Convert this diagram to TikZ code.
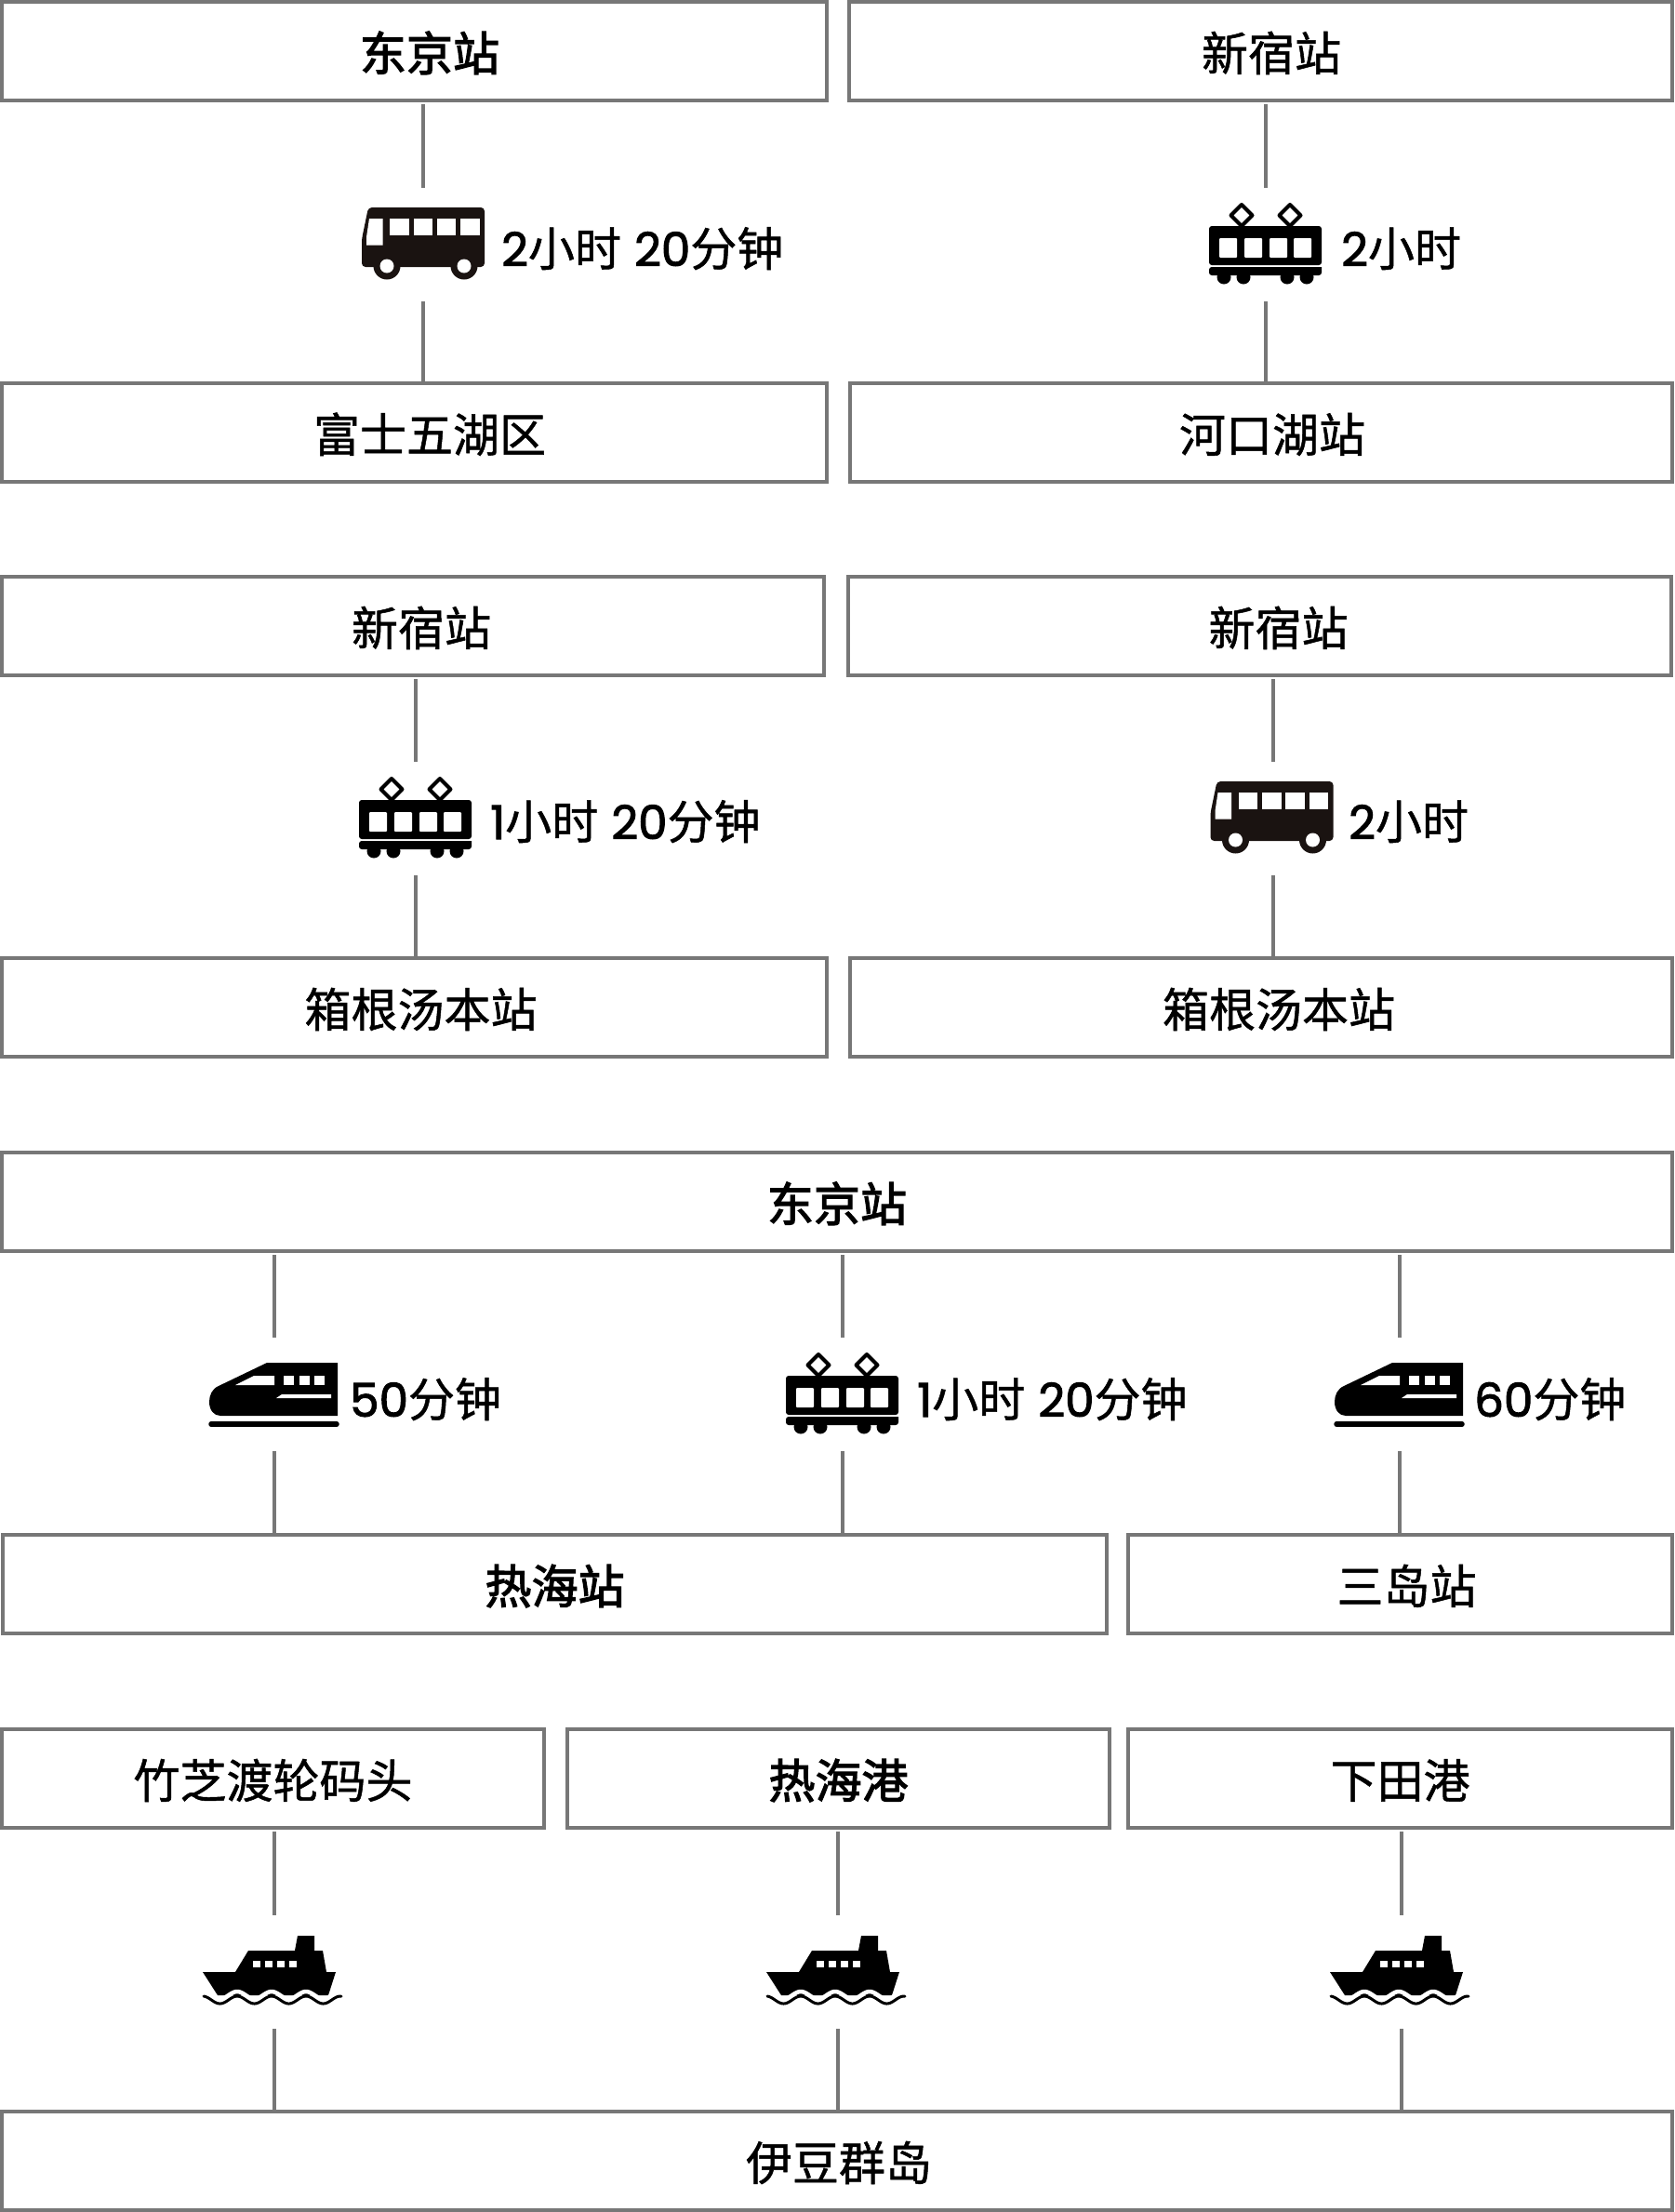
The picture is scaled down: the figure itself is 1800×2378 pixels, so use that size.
\documentclass[tikz,border=0pt]{standalone}
\usepackage{fontspec}
\setmainfont[FakeBold=1]{Noto Sans CJK SC}
\newfontfamily\numfont[FakeBold=2]{Poppins}
\newfontfamily\heavycjk[FakeBold=2.5]{Noto Sans CJK SC}
\definecolor{boxgray}{HTML}{777777}
\definecolor{iconblack}{HTML}{1A1311}

\tikzset{
  stn/.style={rectangle, draw=boxgray, line width=4pt, font=\fontsize{50}{58}\selectfont, inner sep=0pt, text height=45pt, text depth=3pt},
  gap/.style={rectangle, minimum width=4pt, minimum height=120pt, inner sep=0pt},
  link/.style={draw=boxgray, line width=4pt, shorten <=2pt},
  trip/.style={anchor=west, inner sep=0pt, font=\fontsize{50}{58}\selectfont, text height=45pt, text depth=3pt},
  buspic/.pic={
    \fill[iconblack, rounded corners=4pt] (-66,25) -- (-66,-5) -- (-59,-39) -- (66,-39) -- (66,25) -- cycle;
    \fill[iconblack] (-39,24) circle (14.5) (44,24) circle (14.5);
    \fill[white] (-39,24) circle (7.5) (44,24) circle (7.5);
    \fill[white] (-58,-27) -- (-43.5,-27) -- (-43.5,1.5) -- (-61,1.5) -- (-61,-7) -- cycle;
    \foreach \wx in {-36,-10.5,14.5,40} \fill[white] (\wx,-27) rectangle +(20.5,18);
  },
  trainpic/.pic={
    \draw[black, line width=4pt, line join=round] (-26,-42) -- (-14.5,-30.5) -- (-26,-19) -- (-37.5,-30.5) -- cycle;
    \draw[black, line width=4pt, line join=round] (26,-42) -- (37.5,-30.5) -- (26,-19) -- (14.5,-30.5) -- cycle;
    \fill[black, rounded corners=3pt] (-61,23) -- (-61,-19) -- (60,-19) -- (60,23) -- cycle;
    \fill[black] (-61,25) -- (60,25) [rounded corners=3pt] -- (60,34) -- (-61,34) -- cycle;
    \foreach \wx in {-45,-24,23,44} \fill[black] (\wx,36) circle (7.5);
    \foreach \wx in {-50,-23,4,30} \fill[white, rounded corners=1pt] (\wx,-6) rectangle +(19,21);
  },
  bulletpic/.pic={
    \fill[black] (68,-33) -- (-8,-33) -- (-60,-8) .. controls (-67,-5) and (-70,2) .. (-70,9) .. controls (-70,18) and (-65,24) .. (-58,24) -- (68,24) -- cycle;
    \fill[white] (-42,-9) -- (-22,-19) -- (0,-19) -- (0,-9) -- cycle;
    \foreach \wx in {10,27,43} \fill[white] (\wx,-19) rectangle +(11,10);
    \fill[white] (2,5) -- (8,1) -- (61,1) -- (61,5) -- cycle;
    \draw[black, line width=5.5pt, line cap=round] (-68,33) -- (67,33);
  },
  shippic/.pic={
    \fill[black] (-76,1) -- (-41,1) -- (-27,-22) -- (23,-22) -- (26,-38) -- (44,-38) -- (44,-22) -- (53,-22) -- (57,1) -- (67,1) -- (59,26) -- (-60,26) -- cycle;
    \foreach \wx in {-22,-9,4,17} \fill[white] (\wx,-11) rectangle +(8,7);
    \draw[white, line width=4.5pt] plot[domain=-80:77, samples=120] (\x,{26-4*cos((\x+76)*9.73)});
    \draw[black, line width=3pt, line cap=round] plot[domain=-75:73, samples=120] (\x,{31-4*cos((\x+76)*9.73)});
  }
}

\begin{document}
\begin{tikzpicture}[x=1pt, y=-1pt]

\useasboundingbox (0,0) rectangle (1800,2378);

% first row
\node[stn, minimum width=887pt, minimum height=106pt] (tokyoa) at (445,55) {\hspace*{34pt}\heavycjk 东京站};
\node[stn, minimum width=885pt, minimum height=106pt] (shinjukua) at (1355,55) {\hspace*{24pt}新宿站};
\node[stn, minimum width=887pt, minimum height=106pt] (fuji) at (445,465) {\hspace*{34pt}富士五湖区};
\node[stn, minimum width=884pt, minimum height=106pt] (kawaguchi) at (1356,465) {\hspace*{24pt}河口湖站};

\node[gap] (busa) at (455,262) {};
\node[gap] (traina) at (1361,262) {};
\pic at (busa) {buspic};
\pic at (traina) {trainpic};
\node[trip] (busatime) at (539,265) {\numfont 2\rmfamily 小时\hspace{3pt} \numfont 20\rmfamily 分钟};
\node[trip] (trainatime) at (1442,265) {\numfont 2\rmfamily 小时};

\draw[link] (tokyoa.south -| busa) -- (busa.north);
\draw[link] (busa.south) -- (fuji.north -| busa);
\draw[link] (shinjukua.south -| traina) -- (traina.north);
\draw[link] (traina.south) -- (kawaguchi.north -| traina);

% second row
\node[stn, minimum width=884pt, minimum height=106pt] (shinjukub) at (444,673) {\hspace*{18pt}新宿站};
\node[stn, minimum width=885pt, minimum height=106pt] (shinjukuc) at (1354.5,673) {\hspace*{40pt}新宿站};
\node[stn, minimum width=887pt, minimum height=106pt] (hakonea) at (445,1083) {\hspace*{15pt}箱根汤本站};
\node[stn, minimum width=884pt, minimum height=106pt] (hakoneb) at (1356,1083) {\hspace*{38pt}箱根汤本站};

\node[gap] (trainb) at (447,879) {};
\node[gap] (busb) at (1369,879) {};
\pic at (trainb) {trainpic};
\pic at ([xshift=-1.5pt]busb) {buspic};
\node[trip] (trainbtime) at (527,881) {\numfont 1\rmfamily 小时\hspace{3pt} \numfont 20\rmfamily 分钟};
\node[trip] (busbtime) at (1450,881) {\numfont 2\rmfamily 小时};

\draw[link] (shinjukub.south -| trainb) -- (trainb.north);
\draw[link] (trainb.south) -- (hakonea.north -| trainb);
\draw[link] (shinjukuc.south -| busb) -- (busb.north);
\draw[link] (busb.south) -- (hakoneb.north -| busb);

% third row
\node[stn, minimum width=1796pt, minimum height=106pt] (tokyob) at (900,1292) {\heavycjk 东京站};
\node[stn, minimum width=1187pt, minimum height=106pt] (atami) at (596.5,1703) {\heavycjk 热海站};
\node[stn, minimum width=585pt, minimum height=106pt] (mishima) at (1505.5,1703) {\hspace*{14pt}三岛站};

\node[gap] (bulleta) at (295,1498) {};
\node[gap] (trainc) at (906,1498) {};
\node[gap] (bulletb) at (1505,1498) {};
\pic at (bulleta) {bulletpic};
\pic at (trainc) {trainpic};
\pic at (bulletb) {bulletpic};
\node[trip] (bulletatime) at (376,1502) {\numfont 50\rmfamily 分钟};
\node[trip] (trainctime) at (986,1502) {\numfont 1\rmfamily 小时\hspace{3pt} \numfont 20\rmfamily 分钟};
\node[trip] (bulletbtime) at (1585,1502) {\numfont 60\rmfamily 分钟};

\draw[link] (tokyob.south -| bulleta) -- (bulleta.north);
\draw[link] (bulleta.south) -- (atami.north -| bulleta);
\draw[link] (tokyob.south -| trainc) -- (trainc.north);
\draw[link] (trainc.south) -- (atami.north -| trainc);
\draw[link] (tokyob.south -| bulletb) -- (bulletb.north);
\draw[link] (bulletb.south) -- (mishima.north -| bulletb);

% last row
\node[stn, minimum width=583pt, minimum height=106pt] (takeshiba) at (293.5,1912) {竹芝渡轮码头};
\node[stn, minimum width=583pt, minimum height=106pt] (atamiport) at (901.5,1912) {\heavycjk 热海港};
\node[stn, minimum width=585pt, minimum height=106pt] (shimoda) at (1505.5,1912) {下田港};
\node[stn, minimum width=1796pt, minimum height=106pt] (izu) at (900,2323) {\hspace*{4pt}伊豆群岛};

\node[gap] (shipa) at (295,2119) {};
\node[gap] (shipb) at (901,2119) {};
\node[gap] (shipc) at (1507,2119) {};
\pic at ([xshift=-1pt]shipa) {shippic};
\pic at ([xshift=-1pt]shipb) {shippic};
\pic at ([xshift=-1pt]shipc) {shippic};

\draw[link] (takeshiba.south -| shipa) -- (shipa.north);
\draw[link] (shipa.south) -- (izu.north -| shipa);
\draw[link] (atamiport.south -| shipb) -- (shipb.north);
\draw[link] (shipb.south) -- (izu.north -| shipb);
\draw[link] (shimoda.south -| shipc) -- (shipc.north);
\draw[link] (shipc.south) -- (izu.north -| shipc);

\end{tikzpicture}
\end{document}
